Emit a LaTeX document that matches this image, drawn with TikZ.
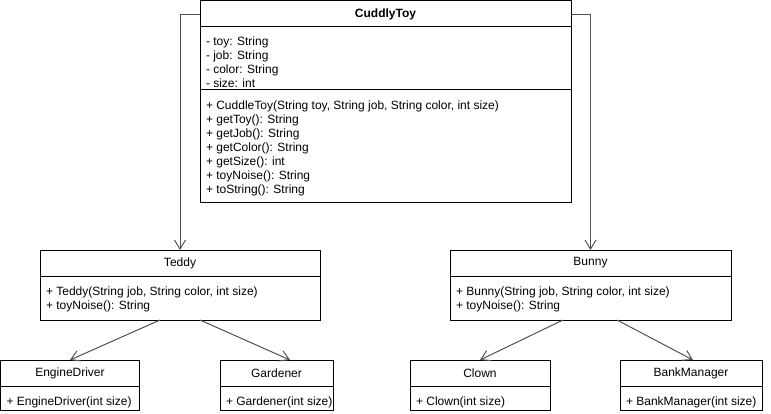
\documentclass[tikz,border=0pt]{standalone}
\usepackage{fontspec}
\setmainfont{Liberation Sans}
\usetikzlibrary{positioning,arrows.meta}
\tikzset{every node/.style={font=\fontsize{12}{14}\selectfont, outer sep=0pt}}
\tikzset{classbox/.style={draw, rectangle, line width=1pt, anchor=north west, inner sep=0pt, minimum height=26pt}}
\tikzset{members/.style={anchor=north west, align=left, inner xsep=6pt, inner ysep=10pt}}
\tikzset{inherit/.style={-{Straight Barb[length=9pt,width=11pt]}, line width=1pt, draw=black!68}}

\begin{document}
\begin{tikzpicture}[x=1pt, y=-1pt]
\useasboundingbox (0,0) rectangle (771,414);
% super class
\node[classbox, minimum width=371pt] (toy) at (200,1) {\textbf{CuddlyToy}};
\node[classbox, minimum width=371pt, minimum height=63pt] (toyattr) at (toy.south west) {};
\node[classbox, minimum width=371pt, minimum height=113pt] (toyops) at (toyattr.south west) {};
\node[members] (toyattrtext) at ([yshift=1pt]toyattr.north west) {\strut- toy: String\\- job: String\\- color: String\\- size: int};
\node[members] (toyopstext) at (toyops.north west) {\strut+ CuddleToy(String toy, String job, String color, int size)\\+ getToy(): String\\+ getJob(): String\\+ getColor(): String\\+ getSize(): int\\+ toyNoise(): String\\+ toString(): String};
% second row
\node[classbox, minimum width=280pt] (teddy) at (40,250) {Teddy};
\node[classbox, minimum width=280pt, minimum height=44pt] (teddybody) at (teddy.south west) {};
\node[members] (teddytext) at (teddybody.north west) {\strut+ Teddy(String job, String color, int size)\\+ toyNoise(): String};
\node[classbox, minimum width=281pt] (bunny) at (450,250) {Bunny};
\node[classbox, minimum width=281pt, minimum height=44pt] (bunnybody) at (bunny.south west) {};
\node[members] (bunnytext) at (bunnybody.north west) {\strut+ Bunny(String job, String color, int size)\\+ toyNoise(): String};
% third row
\node[classbox, minimum width=139pt] (engine) at (0.5,360) {EngineDriver};
\node[classbox, minimum width=139pt, minimum height=24pt] (enginebody) at (engine.south west) {};
\node[members] (enginetext) at (enginebody.north west) {\strut+ EngineDriver(int size)};
\node[classbox, minimum width=113pt] (gardener) at (220,360) {Gardener};
\node[classbox, minimum width=113pt, minimum height=24pt] (gardenerbody) at (gardener.south west) {};
\node[members] (gardenertext) at (gardenerbody.north west) {\strut+ Gardener(int size)};
\node[classbox, minimum width=140pt] (clown) at (410,360) {Clown};
\node[classbox, minimum width=140pt, minimum height=24pt] (clownbody) at (clown.south west) {};
\node[members] (clowntext) at (clownbody.north west) {\strut+ Clown(int size)};
\node[classbox, minimum width=142pt] (bank) at (620,360) {BankManager};
\node[classbox, minimum width=142pt, minimum height=24pt] (bankbody) at (bank.south west) {};
\node[members] (banktext) at (bankbody.north west) {\strut+ BankManager(int size)};
% inheritance
\draw[inherit] ([yshift=-14pt]toy.north west) -| (teddy.north);
\draw[inherit] ([yshift=-14pt]toy.north east) -| (bunny.north);
\draw[inherit] ([xshift=-20pt]teddybody.south) -- (engine.north);
\draw[inherit] ([xshift=20pt]teddybody.south) -- ([xshift=13.5pt]gardener.north);
\draw[inherit] ([xshift=-27.5pt]bunnybody.south) -- (clown.north);
\draw[inherit] ([xshift=26.5pt]bunnybody.south) -- ([xshift=2pt]bank.north);
\end{tikzpicture}
\end{document}
